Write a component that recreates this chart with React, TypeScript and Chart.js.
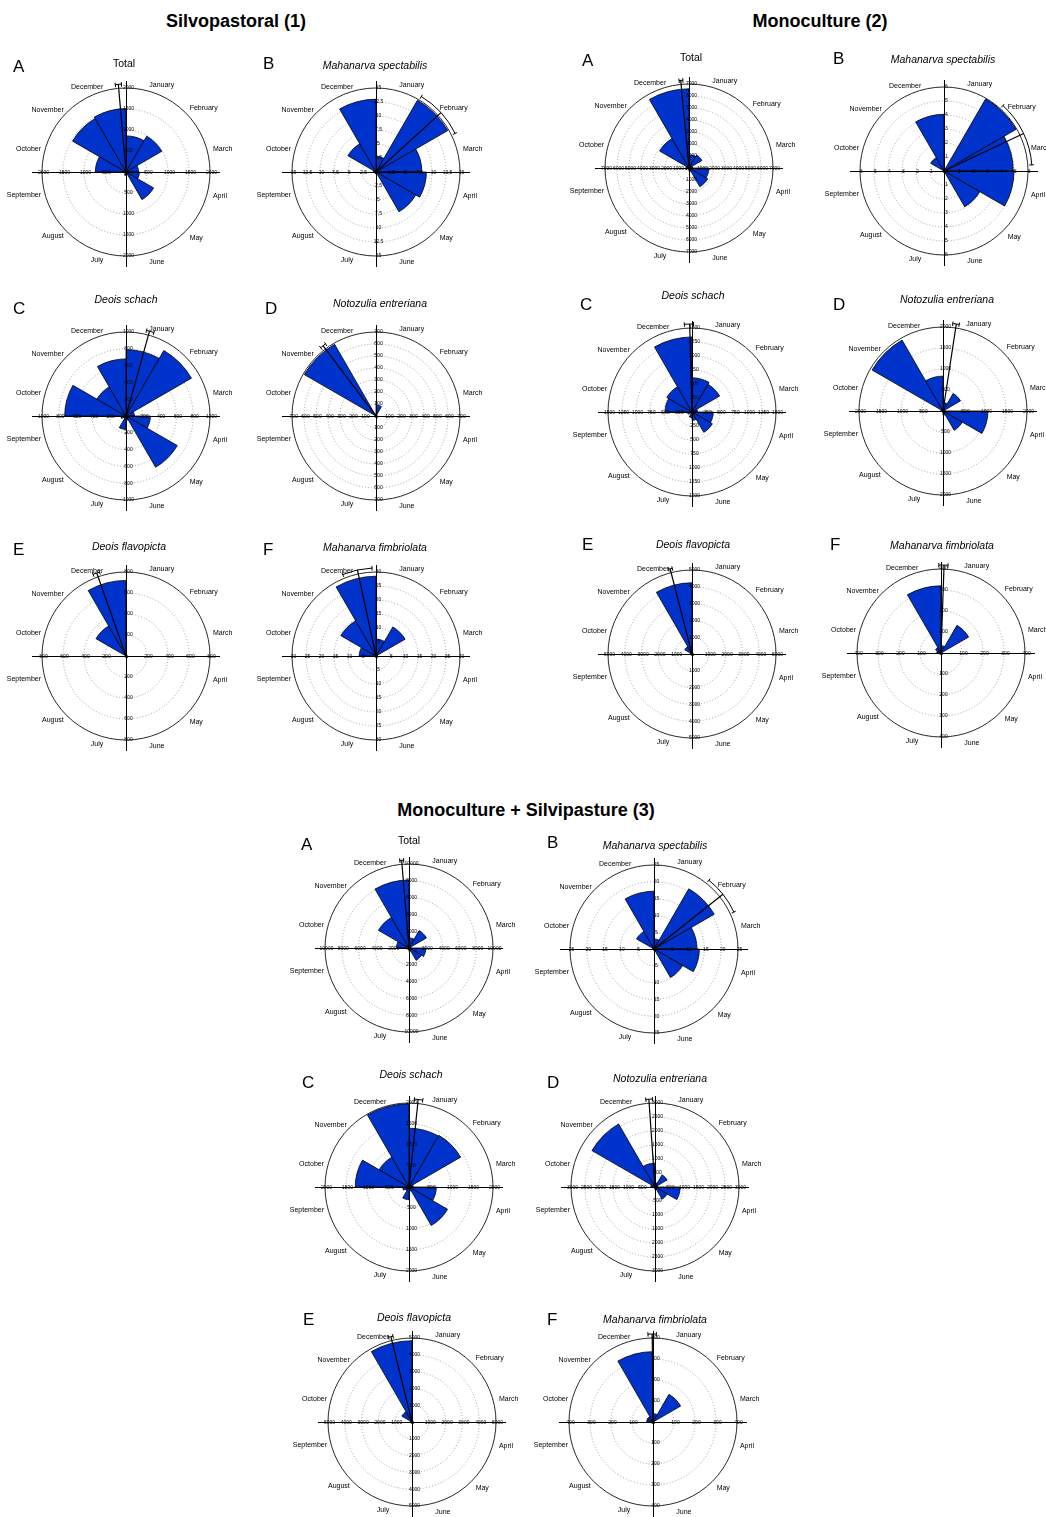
import React, { useEffect, useRef } from "react";
import { Chart, registerables } from "chart.js";

Chart.register(...registerables);

const months = [
  "January", "February", "March", "April", "May", "June",
  "July", "August", "September", "October", "November", "December",
];

// ---- Silvopastoral (1) : monthly values Jan..Dec
const silvoTotal = [860, 985, 300, 320, 760, 60, 80, 10, 40, 730, 1470, 1510];
const silvoMSpectabilis = [2.8, 14.8, 8.2, 9.0, 8.2, 0.4, 0.3, 0, 0.3, 0.5, 5.8, 13];
const silvoDSchach = [790, 900, 100, 290, 705, 50, 160, 30, 60, 730, 400, 680];
const silvoNEntreriana = [90, 5, 0, 0, 5, 0, 0, 0, 0, 10, 690, 15];
const silvoDFlavopicta = [15, 0, 0, 0, 0, 5, 5, 0, 0, 5, 330, 720];
const silvoMFimbriolata = [6, 12, 0.5, 0.3, 0, 0, 0.3, 0, 0.3, 6, 14.5, 28.5];

// ---- Monoculture (2)
const monoTotal = [1100, 1250, 300, 1650, 1800, 300, 100, 50, 300, 250, 2830, 6600];
const monoMSpectabilis = [0, 5.95, 4.95, 5.0, 2.95, 0, 0, 0, 0, 0, 1.1, 4.05];
const monoDSchach = [610, 570, 100, 380, 420, 150, 100, 20, 80, 480, 520, 1340];
const monoNEntreriana = [200, 480, 50, 1070, 530, 100, 20, 0, 20, 50, 1950, 830];
const monoDFlavopicta = [100, 30, 20, 30, 20, 20, 10, 0, 30, 100, 500, 4240];
const monoMFimbriolata = [35, 152, 5, 5, 5, 5, 5, 0, 10, 20, 30, 320];

// ---- Monoculture + Silvipasture (3)
const mixTotal = [1200, 2400, 200, 2000, 1700, 400, 200, 50, 300, 1500, 4200, 8100];
const mixMSpectabilis = [3, 20.7, 12.8, 13.5, 9.8, 0.3, 0, 0, 0.3, 0.5, 6, 17.2];
const mixDSchach = [1400, 1420, 100, 650, 1060, 100, 300, 100, 150, 1280, 820, 1980];
const mixNEntreriana = [150, 500, 100, 900, 500, 100, 20, 0, 50, 150, 2600, 850];
const mixDFlavopicta = [100, 30, 20, 20, 20, 20, 10, 0, 30, 100, 700, 4840];
const mixMFimbriolata = [40, 152, 5, 5, 5, 5, 5, 0, 10, 30, 30, 335];

// panel order: 1A..1F, 2A..2F, 3A..3F
const panelSeries = [
  silvoTotal, silvoMSpectabilis, silvoDSchach, silvoNEntreriana, silvoDFlavopicta, silvoMFimbriolata,
  monoTotal, monoMSpectabilis, monoDSchach, monoNEntreriana, monoDFlavopicta, monoMFimbriolata,
  mixTotal, mixMSpectabilis, mixDSchach, mixNEntreriana, mixDFlavopicta, mixMFimbriolata,
];
const axisMax = [2000, 15, 1000, 700, 800, 30, 7000, 6, 1500, 2000, 5000, 400, 10000, 25, 2000, 3000, 5000, 400];
const axisStep = [500, 2.5, 200, 100, 200, 5, 1000, 1, 250, 500, 1000, 100, 2000, 5, 500, 500, 1000, 100];
const commaDecimals = [false, true, false, false, false, false, false, false, false, false, false, false, false, false, false, false, false, false];
// mean vector (degrees clockwise from top) and its confidence interval
const meanAngle = [-5, 47.6, 15.5, -37, -19.4, -12.2, -5.4, 64.8, -1.5, 8.7, -14.4, 2, -4.8, 51.6, 6, -4, -13.9, -0.5];
const ciLow = [-7, 31, 13.5, -39, -22, -22.2, -6.5, 42, -5, 6.4, -15.5, -1.4, -6, 38.6, 3.5, -6, -15.5, -3.3];
const ciHigh = [-3, 64, 18.5, -35, -17.5, -2.6, -4, 86, 1, 10.6, -13, 4.6, -3.5, 65.2, 9, -1.7, -12.5, 2.2];

const panelLetters = ["A", "B", "C", "D", "E", "F"];
const panelTitles = [
  "Total", "Mahanarva spectabilis", "Deois schach",
  "Notozulia entreriana", "Deois flavopicta", "Mahanarva fimbriolata",
];
const groupTitles = ["Silvopastoral (1)", "Monoculture (2)", "Monoculture + Silvipasture (3)"];

// ---- layout (page pixel coordinates)
// [cx, cy, letterDx, letterDy, titleDx, titleDy]
const panelLayout: number[][] = [
  [126, 172, -113, -106, -2, -109],
  [376, 172, -113, -109, -1, -107],
  [126, 416, -113, -108, 0, -117],
  [376, 416, -111, -108, 4, -113],
  [126, 656, -113, -107, 3, -110],
  [376, 656, -113, -107, -1, -109],
  [689, 168, -107, -108, 2, -111],
  [944, 171, -111, -113, -1, -112],
  [692, 412, -112, -108, 1, -117],
  [943, 411, -110, -107, 4, -112],
  [692, 654, -110, -110, 1, -110],
  [941, 653, -111, -109, 1, -108],
  [409, 948, -108, -104, 0, -108],
  [654, 949, -107, -107, 1, -104],
  [409, 1187, -107, -105, 2, -113],
  [655, 1187, -108, -105, 5, -109],
  [412, 1422, -109, -103, 2, -105],
  [653, 1422, -106, -103, 2, -103],
];
const groupTitleLayout: number[][] = [
  [236, 21],
  [820, 21],
  [526, 810],
];

const FONT = '"Liberation Sans", Arial, Helvetica, sans-serif';
const BLUE = "#0033CC";
const CW = 250;
const CH = 210;
const RAD = 84;

type RoseProps = {
  values: number[];
  max: number;
  step: number;
  mean: number;
  lo: number;
  hi: number;
  comma: boolean;
};

function fmt(v: number, comma: boolean): string {
  const s = String(Math.round(v * 1000) / 1000);
  return comma ? s.replace(".", ",") : s;
}

function RoseChart({ values, max, step, mean, lo, hi, comma }: RoseProps) {
  const ref = useRef<HTMLCanvasElement | null>(null);
  useEffect(() => {
    const canvas = ref.current;
    if (!canvas) return;
    const overlay = {
      id: "roseOverlay",
      beforeDatasetsDraw(chart: any) {
        const s = chart.scales.r;
        const ctx = chart.ctx;
        const cx = s.xCenter;
        const cy = s.yCenter;
        ctx.save();
        s.ticks.forEach((t: any) => {
          if (t.value <= 0) return;
          const r = s.getDistanceFromCenterForValue(t.value);
          ctx.beginPath();
          ctx.arc(cx, cy, r, 0, Math.PI * 2);
          if (t.value >= s.max - 1e-9) {
            ctx.setLineDash([]);
            ctx.strokeStyle = "#111";
            ctx.lineWidth = 0.9;
          } else {
            ctx.setLineDash([1, 2]);
            ctx.strokeStyle = "#8c8c8c";
            ctx.lineWidth = 0.8;
          }
          ctx.stroke();
        });
        ctx.restore();
      },
      afterDatasetsDraw(chart: any) {
        const s = chart.scales.r;
        const ctx = chart.ctx;
        const cx = s.xCenter;
        const cy = s.yCenter;
        const R = s.drawingArea;
        ctx.save();
        ctx.setLineDash([]);
        // cross axes
        ctx.strokeStyle = "#000";
        ctx.lineWidth = 1;
        ctx.beginPath();
        ctx.moveTo(cx - R - 10, cy + 0.5);
        ctx.lineTo(cx + R + 10, cy + 0.5);
        ctx.moveTo(cx + 0.5, cy - R - 7);
        ctx.lineTo(cx + 0.5, cy + R + 11);
        ctx.stroke();
        // tick labels along the axes
        ctx.fillStyle = "#000";
        ctx.font = `5px ${FONT}`;
        ctx.textAlign = "center";
        ctx.textBaseline = "middle";
        s.ticks.forEach((t: any) => {
          if (t.value <= 0) return;
          const d = s.getDistanceFromCenterForValue(t.value);
          const txt = fmt(t.value, comma);
          ctx.fillText(txt, cx + d + 1.5, cy + 0.5);
          ctx.fillText(txt, cx - d + 1.5, cy + 0.5);
          ctx.fillText(txt, cx + 2.5, cy - d);
          ctx.fillText(txt, cx + 2.5, cy + d);
        });
        // month labels
        ctx.font = `7px ${FONT}`;
        const labels = chart.data.labels as string[];
        labels.forEach((lab: string, i: number) => {
          const a = ((15 + 30 * i) * Math.PI) / 180;
          const sn = Math.sin(a);
          const cs = Math.cos(a);
          const rr = sn > 0 ? R + 6 : R + 4;
          const x = cx + rr * sn;
          const y = cy - rr * cs + 3 * Math.max(0, -cs);
          ctx.textAlign = sn > 0 ? "left" : "right";
          ctx.fillText(lab, x, y);
        });
        // mean vector and confidence arc
        const toRad = (deg: number) => ((deg - 90) * Math.PI) / 180;
        const am = toRad(mean);
        const rv = R + 4;
        ctx.strokeStyle = "#000";
        ctx.lineWidth = 1.2;
        ctx.beginPath();
        ctx.moveTo(cx, cy);
        ctx.lineTo(cx + rv * Math.cos(am), cy + rv * Math.sin(am));
        ctx.stroke();
        ctx.lineWidth = 1;
        ctx.beginPath();
        ctx.arc(cx, cy, rv, toRad(lo), toRad(hi));
        ctx.stroke();
        [lo, hi].forEach((deg) => {
          const a = toRad(deg);
          ctx.beginPath();
          ctx.moveTo(cx + (rv - 2.5) * Math.cos(a), cy + (rv - 2.5) * Math.sin(a));
          ctx.lineTo(cx + (rv + 2) * Math.cos(a), cy + (rv + 2) * Math.sin(a));
          ctx.stroke();
        });
        // center dot
        ctx.fillStyle = "#000";
        ctx.beginPath();
        ctx.arc(cx + 0.5, cy + 0.5, 1.6, 0, Math.PI * 2);
        ctx.fill();
        ctx.restore();
      },
    };
    const chart = new Chart(canvas, {
      type: "polarArea",
      data: {
        labels: months,
        datasets: [
          {
            data: values,
            backgroundColor: BLUE,
            borderColor: "#000",
            borderWidth: 0.8,
          },
        ],
      },
      options: {
        responsive: false,
        animation: false,
        events: [],
        layout: {
          padding: {
            left: CW / 2 - RAD,
            right: CW / 2 - RAD,
            top: CH / 2 - RAD,
            bottom: CH / 2 - RAD,
          },
        },
        plugins: {
          legend: { display: false },
          tooltip: { enabled: false },
          title: { display: false },
        },
        scales: {
          r: {
            min: 0,
            max: max,
            startAngle: 0,
            ticks: { display: false, stepSize: step },
            grid: { display: false },
            angleLines: { display: false },
            pointLabels: { display: false },
          },
        },
      } as any,
      plugins: [overlay],
    });
    return () => chart.destroy();
  }, [values, max, step, mean, lo, hi, comma]);
  return <canvas ref={ref} width={CW} height={CH} style={{ display: "block" }} />;
}

export default function App() {
  return (
    <div
      style={{
        position: "absolute",
        left: 0,
        top: 0,
        width: 1046,
        height: 1517,
        overflow: "hidden",
        background: "#fff",
        fontFamily: FONT,
      }}
    >
      {groupTitles.map((t, i) => (
        <div
          key={"g" + i}
          style={{
            position: "absolute",
            left: groupTitleLayout[i][0],
            top: groupTitleLayout[i][1],
            transform: "translate(-50%, -50%)",
            fontSize: 18,
            fontWeight: "bold",
            whiteSpace: "nowrap",
            lineHeight: 1,
            color: "#000",
          }}
        >
          {t}
        </div>
      ))}
      {panelSeries.map((vals, i) => {
        const [cx, cy, ldx, ldy, tdx, tdy] = panelLayout[i];
        const k = i % 6;
        return (
          <React.Fragment key={"p" + i}>
            <div
              style={{
                position: "absolute",
                left: cx - CW / 2,
                top: cy - CH / 2,
                width: CW,
                height: CH,
              }}
            >
              <RoseChart
                values={vals}
                max={axisMax[i]}
                step={axisStep[i]}
                mean={meanAngle[i]}
                lo={ciLow[i]}
                hi={ciHigh[i]}
                comma={commaDecimals[i]}
              />
            </div>
            <div
              style={{
                position: "absolute",
                left: cx + ldx,
                top: cy + ldy,
                transform: "translate(0, -50%)",
                fontSize: 17,
                lineHeight: 1,
                whiteSpace: "nowrap",
                color: "#000",
              }}
            >
              {panelLetters[k]}
            </div>
            <div
              style={{
                position: "absolute",
                left: cx + tdx,
                top: cy + tdy,
                transform: "translate(-50%, -50%)",
                fontSize: 10.5,
                fontStyle: k === 0 ? "normal" : "italic",
                lineHeight: 1,
                whiteSpace: "nowrap",
                color: "#000",
              }}
            >
              {panelTitles[k]}
            </div>
          </React.Fragment>
        );
      })}
    </div>
  );
}
